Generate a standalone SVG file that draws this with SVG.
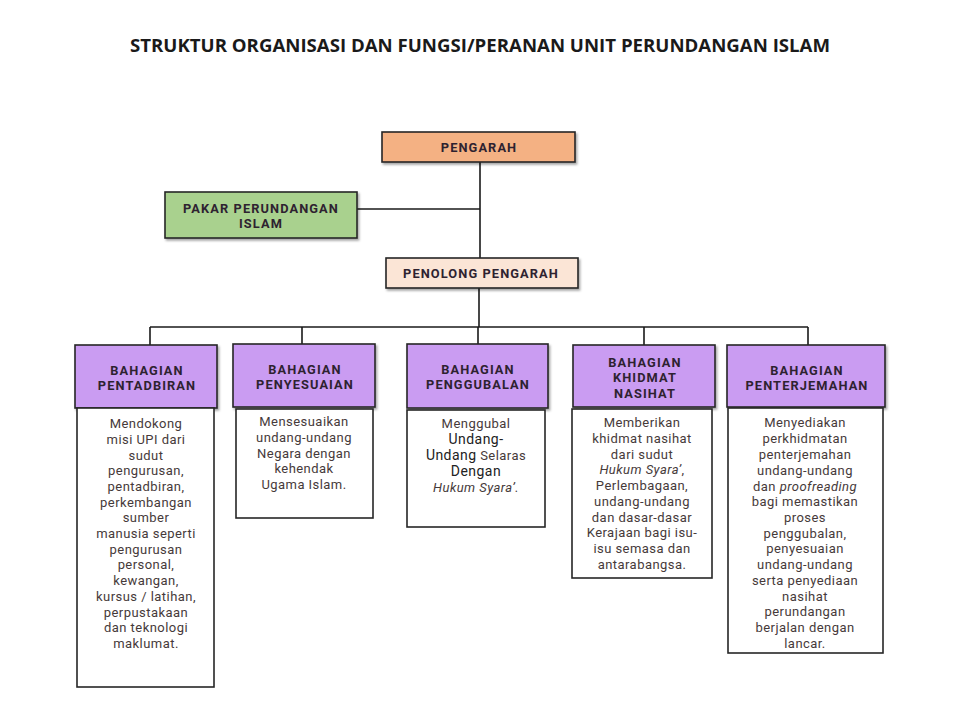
<svg xmlns="http://www.w3.org/2000/svg" width="960" height="720" viewBox="0 0 960 720">
<style>
.box{stroke:#262626;stroke-width:1.6}
.hd{font-family:Roboto,"Liberation Sans",sans-serif;font-weight:700;font-size:12.8px;letter-spacing:1.1px;fill:#2e2230;text-anchor:middle}
.ds{font-family:Roboto,"Liberation Sans",sans-serif;font-size:13px;letter-spacing:0.45px;fill:#463a3a;text-anchor:middle}
.big{font-size:14px;fill:#222}
.it{font-style:italic}
.ln{stroke:#1a1a1a;stroke-width:1.6;fill:none}
.title{font-family:"Open Sans","Liberation Sans",sans-serif;font-weight:700;font-size:18px;fill:#1a1a1a;text-anchor:middle}
</style>
<defs>
<filter id="sh" x="-10%" y="-10%" width="130%" height="140%"><feDropShadow dx="1.5" dy="2" stdDeviation="1" flood-color="#000" flood-opacity="0.35"/></filter>
</defs>
<rect width="960" height="720" fill="#fff"/>
<text class="title" x="480" y="52" textLength="700" lengthAdjust="spacingAndGlyphs">STRUKTUR ORGANISASI DAN FUNGSI/PERANAN UNIT PERUNDANGAN ISLAM</text>

<g id="connectors">
<path class="ln" d="M480 162V258"/>
<path class="ln" d="M357 209H480"/>
<path class="ln" d="M479 288V327"/>
<path class="ln" d="M150 327H808"/>
<path class="ln" d="M150 327V345M302 327V344M478 327V344M644 327V345M808 327V345"/>
</g>

<g id="pengarah">
<rect class="box" x="382" y="132" width="193" height="30" fill="#F4B183" filter="url(#sh)"/>
<text class="hd" x="479" y="152">PENGARAH</text>
</g>
<g id="pakar">
<rect class="box" x="165" y="192" width="192" height="46" fill="#A9D18E" filter="url(#sh)"/>
<text class="hd" x="261" y="213">PAKAR PERUNDANGAN</text>
<text class="hd" x="261" y="228">ISLAM</text>
</g>
<g id="penolong">
<rect class="box" x="386" y="258" width="192" height="30" fill="#FBE5D6" filter="url(#sh)"/>
<text class="hd" x="481" y="278">PENOLONG PENGARAH</text>
</g>

<g id="pentadbiran">
<rect class="box" x="75" y="345" width="142" height="63" fill="#CA9CF2" filter="url(#sh)"/>
<text class="hd" x="147" y="375">BAHAGIAN</text>
<text class="hd" x="147" y="390">PENTADBIRAN</text>
<rect class="box" x="77" y="408" width="137" height="279" fill="#fff"/>
<text class="ds" x="146" y="428">Mendokong</text>
<text class="ds" x="146" y="444">misi UPI dari</text>
<text class="ds" x="146" y="460">sudut</text>
<text class="ds" x="146" y="475">pengurusan,</text>
<text class="ds" x="146" y="491">pentadbiran,</text>
<text class="ds" x="146" y="507">perkembangan</text>
<text class="ds" x="146" y="522">sumber</text>
<text class="ds" x="146" y="538">manusia seperti</text>
<text class="ds" x="146" y="554">pengurusan</text>
<text class="ds" x="146" y="569">personal,</text>
<text class="ds" x="146" y="585">kewangan,</text>
<text class="ds" x="146" y="601">kursus / latihan,</text>
<text class="ds" x="146" y="617">perpustakaan</text>
<text class="ds" x="146" y="632">dan teknologi</text>
<text class="ds" x="146" y="648">maklumat.</text>
</g>

<g id="penyesuaian">
<rect class="box" x="233" y="344" width="142" height="63" fill="#CA9CF2" filter="url(#sh)"/>
<text class="hd" x="305" y="374">BAHAGIAN</text>
<text class="hd" x="305" y="389">PENYESUAIAN</text>
<rect class="box" x="236" y="409" width="137" height="109" fill="#fff"/>
<text class="ds" x="304" y="426">Mensesuaikan</text>
<text class="ds" x="304" y="442">undang-undang</text>
<text class="ds" x="304" y="458">Negara dengan</text>
<text class="ds" x="304" y="473">kehendak</text>
<text class="ds" x="304" y="489">Ugama Islam.</text>
</g>

<g id="penggubalan">
<rect class="box" x="407" y="344" width="141" height="64" fill="#CA9CF2" filter="url(#sh)"/>
<text class="hd" x="478" y="374">BAHAGIAN</text>
<text class="hd" x="478" y="389">PENGGUBALAN</text>
<rect class="box" x="407" y="410" width="138" height="117" fill="#fff"/>
<text class="ds" x="476" y="428">Menggubal</text>
<text class="ds big" x="476" y="444">Undang-</text>
<text class="ds" x="476" y="460"><tspan class="big">Undang</tspan> Selaras</text>
<text class="ds big" x="476" y="476">Dengan</text>
<text class="ds it" x="476" y="492">Hukum Syara’.</text>
</g>

<g id="khidmat-nasihat">
<rect class="box" x="573" y="345" width="142" height="62" fill="#CA9CF2" filter="url(#sh)"/>
<text class="hd" x="645" y="367">BAHAGIAN</text>
<text class="hd" x="645" y="382">KHIDMAT</text>
<text class="hd" x="645" y="398">NASIHAT</text>
<rect class="box" x="572" y="409" width="140" height="169" fill="#fff"/>
<text class="ds" x="642" y="427">Memberikan</text>
<text class="ds" x="642" y="443">khidmat nasihat</text>
<text class="ds" x="642" y="459">dari sudut</text>
<text class="ds" x="642" y="474"><tspan class="it">Hukum Syara’</tspan>,</text>
<text class="ds" x="642" y="490">Perlembagaan,</text>
<text class="ds" x="642" y="506">undang-undang</text>
<text class="ds" x="642" y="522">dan dasar-dasar</text>
<text class="ds" x="642" y="537">Kerajaan bagi isu-</text>
<text class="ds" x="642" y="553">isu semasa dan</text>
<text class="ds" x="642" y="569">antarabangsa.</text>
</g>

<g id="penterjemahan">
<rect class="box" x="727" y="345" width="158" height="62" fill="#CA9CF2" filter="url(#sh)"/>
<text class="hd" x="807" y="375">BAHAGIAN</text>
<text class="hd" x="807" y="390">PENTERJEMAHAN</text>
<rect class="box" x="728" y="408" width="155" height="245" fill="#fff"/>
<text class="ds" x="805" y="427">Menyediakan</text>
<text class="ds" x="805" y="443">perkhidmatan</text>
<text class="ds" x="805" y="459">penterjemahan</text>
<text class="ds" x="805" y="475">undang-undang</text>
<text class="ds" x="805" y="491">dan <tspan class="it">proofreading</tspan></text>
<text class="ds" x="805" y="506">bagi memastikan</text>
<text class="ds" x="805" y="522">proses</text>
<text class="ds" x="805" y="538">penggubalan,</text>
<text class="ds" x="805" y="553">penyesuaian</text>
<text class="ds" x="805" y="569">undang-undang</text>
<text class="ds" x="805" y="585">serta penyediaan</text>
<text class="ds" x="805" y="601">nasihat</text>
<text class="ds" x="805" y="616">perundangan</text>
<text class="ds" x="805" y="632">berjalan dengan</text>
<text class="ds" x="805" y="648">lancar.</text>
</g>
</svg>
